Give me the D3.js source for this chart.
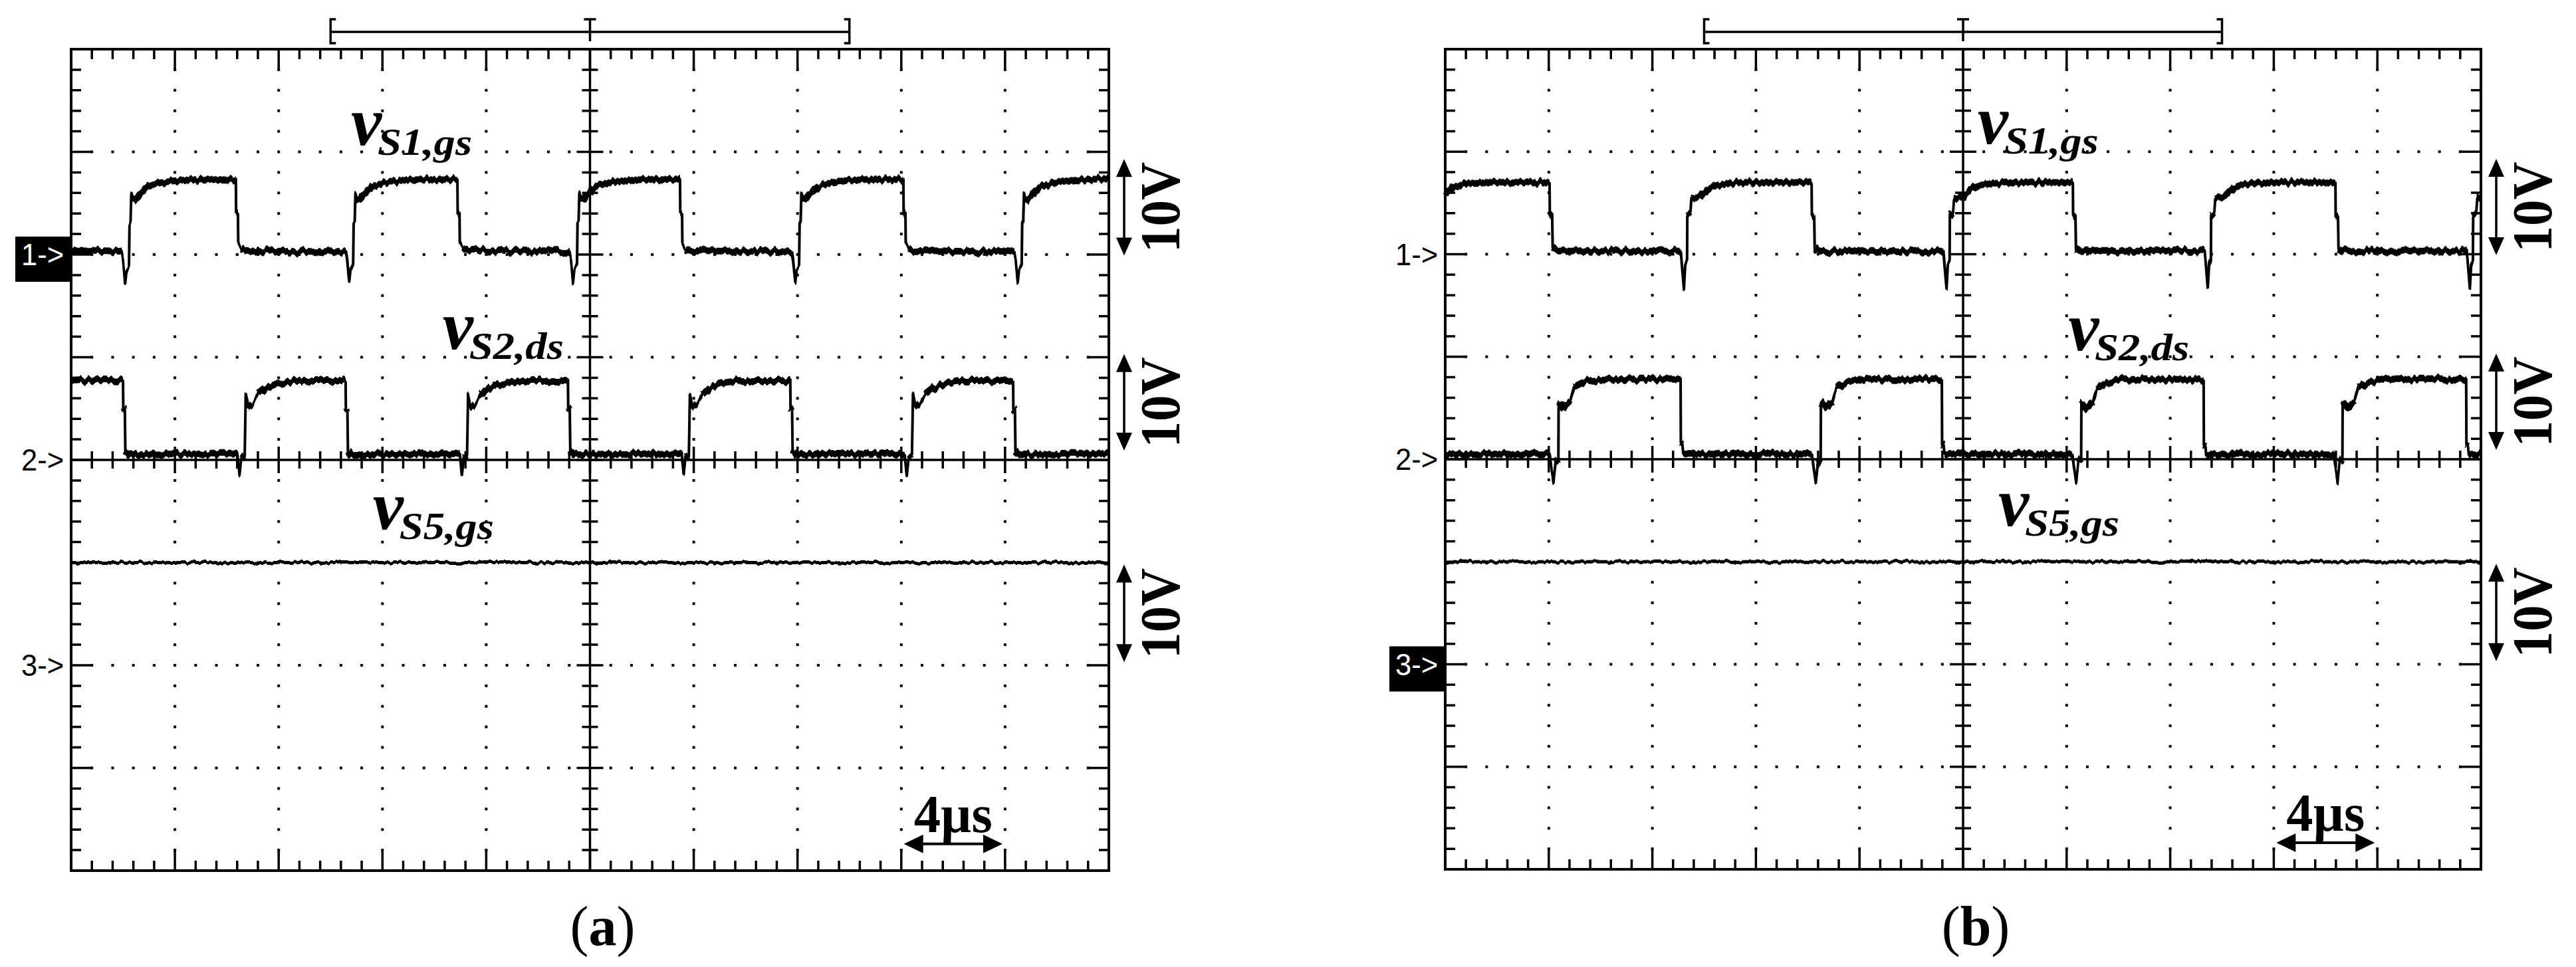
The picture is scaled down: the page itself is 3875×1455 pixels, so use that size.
<!DOCTYPE html>
<html>
<head>
<meta charset="utf-8">
<script src="https://cdn.jsdelivr.net/npm/d3@7"></script>
<style>
html,body{margin:0;padding:0;background:#fff;}
svg{display:block;}
</style>
</head>
<body>
<svg id="chart" width="3875" height="1455"></svg>
<script>
// ================= DATA =================
// time in µs (4 µs/div, 10 div), voltage in V (10 V/div), per channel relative to its ground marker
const timeSpan = [0, 40];
const voltsPerDiv = 10;
const divisionsX = 10;
const divisionsY = 8;
const panelNames = ["a", "b"];
const channelNames = ["1->", "2->", "3->"];
const channelGroundDiv = [6, 4, 2];
const traceSubscripts = ["S1,gs", "S2,ds", "S5,gs"];
const timeScaleLabel = "4\u00B5s";
const voltScaleLabel = "10V";
const voltScaleBars = [[-0.1, 9.3], [0.9, 10.3], [0.3, 9.8]];
const timeScaleBar = [32.1, 35.9];
const cursorBracket = [10, 20, 30];

const panelA_vS1 = [
 [0,0.3],[1.0,0.4],[1.95,0.3],
 [2.0,-0.5],[2.08,-2.7],[2.13,-1.5],[2.23,-1.0],[2.25,3.0],[2.29,3.2],[2.32,6.0],[2.40,5.2],[2.55,5.6],[2.70,6.0],[2.95,6.6],[3.45,7.0],[4.05,7.2],[4.75,7.3],[6.35,7.3],
 [6.36,4.0],[6.43,4.0],[6.44,1.2],[6.55,0.6],[6.75,0.4],[8.5,0.3],[10.59,0.3],
 [10.64,-0.5],[10.72,-2.7],[10.77,-1.5],[10.87,-1.0],[10.89,3.0],[10.93,3.2],[10.96,6.0],[11.04,5.2],[11.19,5.6],[11.34,6.0],[11.59,6.6],[12.09,7.0],[12.69,7.2],[13.39,7.3],[14.89,7.3],
 [14.90,4.0],[14.97,4.0],[14.98,1.2],[15.09,0.6],[15.29,0.4],[17.0,0.3],[19.22,0.3],
 [19.27,-0.5],[19.35,-2.7],[19.40,-1.5],[19.50,-1.0],[19.52,3.0],[19.56,3.2],[19.59,6.0],[19.67,5.2],[19.82,5.6],[19.97,6.0],[20.22,6.6],[20.72,7.0],[21.32,7.2],[22.02,7.3],[23.47,7.3],
 [23.48,4.0],[23.55,4.0],[23.56,1.2],[23.67,0.6],[23.87,0.4],[25.5,0.3],[27.78,0.3],
 [27.83,-0.5],[27.91,-2.7],[27.96,-1.5],[28.06,-1.0],[28.08,3.0],[28.12,3.2],[28.15,6.0],[28.23,5.2],[28.38,5.6],[28.53,6.0],[28.78,6.6],[29.28,7.0],[29.88,7.2],[30.58,7.3],[32.08,7.3],
 [32.09,4.0],[32.16,4.0],[32.17,1.2],[32.28,0.6],[32.48,0.4],[34.5,0.3],[36.36,0.3],
 [36.41,-0.5],[36.49,-2.7],[36.54,-1.5],[36.64,-1.0],[36.66,3.0],[36.70,3.2],[36.73,6.0],[36.81,5.2],[36.96,5.6],[37.11,6.0],[37.36,6.6],[37.86,7.0],[38.46,7.2],[39.16,7.3],[40,7.4]
];

const panelA_vS2 = [
 [0,7.7],[0.8,7.8],[2.0,7.7],[2.01,5.0],[2.07,4.8],[2.09,0.9],[2.2,0.5],[4.5,0.6],[6.41,0.6],
 [6.49,-1.5],[6.56,0.2],[6.69,0.4],[6.71,3.2],[6.73,6.4],[6.81,5.4],[6.95,5.0],[7.21,6.4],[7.51,7.0],[7.91,7.4],[8.71,7.7],[10.58,7.7],
 [10.59,5.0],[10.65,4.8],[10.67,0.9],[10.78,0.5],[13.0,0.6],[14.98,0.6],
 [15.06,-1.5],[15.13,0.2],[15.26,0.4],[15.28,3.2],[15.30,6.4],[15.38,5.4],[15.52,5.0],[15.78,6.4],[16.08,7.0],[16.48,7.4],[17.28,7.7],[19.15,7.7],
 [19.16,5.0],[19.22,4.8],[19.24,0.9],[19.35,0.5],[21.5,0.6],[23.53,0.6],
 [23.61,-1.5],[23.68,0.2],[23.81,0.4],[23.83,3.2],[23.85,6.4],[23.93,5.4],[24.07,5.0],[24.33,6.4],[24.63,7.0],[25.03,7.4],[25.83,7.7],[27.72,7.7],
 [27.73,5.0],[27.79,4.8],[27.81,0.9],[27.92,0.5],[30.0,0.6],[32.13,0.6],
 [32.21,-1.5],[32.28,0.2],[32.41,0.4],[32.43,3.2],[32.45,6.4],[32.53,5.4],[32.67,5.0],[32.93,6.4],[33.23,7.0],[33.63,7.4],[34.43,7.7],[36.31,7.7],
 [36.32,5.0],[36.38,4.8],[36.40,0.9],[36.51,0.5],[38.5,0.6],[40,0.6]
];

const panelA_vS5 = [[0,10.0],[10,10.0],[20,10.0],[30,10.0],[40,10.0]];

const panelB_vS1 = [
 [0,5.8],[0.3,6.5],[0.8,6.9],[1.5,7.0],[4.03,7.0],[4.04,3.8],[4.13,3.8],[4.15,0.6],[4.33,0.3],[7.0,0.3],[9.10,0.3],
 [9.22,-3.4],[9.27,-1.0],[9.34,-0.5],[9.35,3.8],[9.47,4.0],[9.51,5.4],[9.85,5.6],[10.15,6.3],[10.45,6.7],[10.95,6.9],[11.65,7.0],[14.15,7.0],
 [14.16,3.8],[14.25,3.8],[14.27,0.6],[14.45,0.3],[17.0,0.3],[19.24,0.3],
 [19.36,-3.4],[19.41,-1.0],[19.48,-0.5],[19.49,3.8],[19.61,4.0],[19.65,5.4],[19.99,5.6],[20.29,6.3],[20.59,6.7],[21.09,6.9],[21.79,7.0],[24.24,7.0],
 [24.25,3.8],[24.34,3.8],[24.36,0.6],[24.54,0.3],[27.0,0.3],[29.33,0.3],
 [29.45,-3.4],[29.50,-1.0],[29.57,-0.5],[29.58,3.8],[29.70,4.0],[29.74,5.4],[30.08,5.6],[30.38,6.3],[30.68,6.7],[31.18,6.9],[31.88,7.0],[34.38,7.0],
 [34.39,3.8],[34.48,3.8],[34.50,0.6],[34.68,0.3],[37.0,0.3],[39.45,0.3],
 [39.57,-3.4],[39.62,-1.0],[39.69,-0.5],[39.70,3.8],[39.82,4.0],[39.86,5.4],[40,5.5]
];

const panelB_vS2 = [
 [0,0.5],[2.0,0.5],[4.03,0.5],
 [4.18,-2.3],[4.26,-0.3],[4.37,0.0],[4.38,5.6],[4.58,5.0],[4.83,5.6],[4.98,7.0],[5.38,7.5],[5.98,7.8],[9.09,7.8],
 [9.10,1.5],[9.16,1.4],[9.19,0.5],[9.39,0.5],[12.0,0.5],[14.16,0.5],
 [14.31,-2.3],[14.39,-0.3],[14.50,0.0],[14.51,5.6],[14.71,5.0],[14.96,5.6],[15.11,7.0],[15.51,7.5],[16.11,7.8],[19.18,7.8],
 [19.19,1.5],[19.25,1.4],[19.28,0.5],[19.48,0.5],[22.0,0.5],[24.22,0.5],
 [24.37,-2.3],[24.45,-0.3],[24.56,0.0],[24.57,5.6],[24.77,5.0],[25.02,5.6],[25.17,7.0],[25.57,7.5],[26.17,7.8],[29.29,7.8],
 [29.30,1.5],[29.36,1.4],[29.39,0.5],[29.59,0.5],[32.0,0.5],[34.31,0.5],
 [34.46,-2.3],[34.54,-0.3],[34.65,0.0],[34.66,5.6],[34.86,5.0],[35.11,5.6],[35.26,7.0],[35.66,7.5],[36.26,7.8],[39.43,7.8],
 [39.44,1.5],[39.50,1.4],[39.53,0.5],[40,0.5]
];

const panelB_vS5 = [[0,10.0],[10,10.0],[20,10.0],[30,10.0],[40,10.0]];

// ================= LAYOUT =================
const SERIF = "'Liberation Serif','Times New Roman',Times,serif";
const SANS = "'Liberation Sans',Arial,sans-serif";
const panels = [
  { box: [107, 1668, 74, 1310], traces: [panelA_vS1, panelA_vS2, panelA_vS5], boxedMarker: 0, name: panelNames[0],
    labelPos: [[10.79, 7.07], [14.32, 5.08], [11.63, 3.33]] },
  { box: [2174, 3732, 74, 1308], traces: [panelB_vS1, panelB_vS2, panelB_vS5], boxedMarker: 2, name: panelNames[1],
    labelPos: [[20.56, 7.08], [24.06, 5.06], [21.36, 3.35]] }
];

const svg = d3.select("#chart");
svg.append("rect").attr("width", 3875).attr("height", 1455).attr("fill", "#fff");

// trace-fuzz rendering effect (oscilloscope noise look; does not alter the data points)
const defs = svg.append("defs");
function fuzzFilter(id, scale, freq) {
  const f = defs.append("filter").attr("id", id).attr("filterUnits", "userSpaceOnUse")
    .attr("x", 0).attr("y", 0).attr("width", 3875).attr("height", 1455);
  f.append("feTurbulence").attr("type", "fractalNoise").attr("baseFrequency", freq + " 0.004")
    .attr("numOctaves", 1).attr("seed", 7).attr("result", "turb");
  f.append("feColorMatrix").attr("in", "turb").attr("type", "matrix")
    .attr("values", "0 0 0 0 0.5  1 0 0 0 0  0 0 0 0 0  0 0 0 0 1").attr("result", "map");
  f.append("feDisplacementMap").attr("in", "SourceGraphic").attr("in2", "map")
    .attr("scale", scale).attr("xChannelSelector", "R").attr("yChannelSelector", "G");
}
fuzzFilter("fuzz", 13, 0.2);
fuzzFilter("fuzzLight", 8, 0.2);

function near(a, b) { return Math.abs(a - b) < 1e-6; }

panels.forEach(p => {
  const [L, R, T, B] = p.box;
  const x = d3.scaleLinear().domain(timeSpan).range([L, R]);
  const y = d3.scaleLinear().domain([0, divisionsY]).range([B, T]);
  const tDiv = (timeSpan[1] - timeSpan[0]) / divisionsX;
  const g = svg.append("g");

  const minorX = d3.range(0, divisionsX * 5 + 1).map(i => i * tDiv / 5);
  const minorY = d3.range(0, divisionsY * 5 + 1).map(i => i / 5);
  const isMajX = t => near(t / tDiv, Math.round(t / tDiv));
  const isMajY = d => near(d, Math.round(d));
  const midT = (timeSpan[0] + timeSpan[1]) / 2, midD = divisionsY / 2;

  // dotted grid
  const dots = [];
  for (let k = 1; k < divisionsX; k++) {
    if (k === divisionsX / 2) continue;
    minorY.forEach(d => { if (d > 0 && d < divisionsY) dots.push([x(k * tDiv), y(d)]); });
  }
  for (let j = 1; j < divisionsY; j++) {
    if (j === midD) continue;
    minorX.forEach(t => { if (t > timeSpan[0] && t < timeSpan[1] && !isMajX(t)) dots.push([x(t), y(j)]); });
  }
  g.append("g").selectAll("rect").data(dots).join("rect")
    .attr("x", d => d[0] - 2).attr("y", d => d[1] - 2)
    .attr("width", 4).attr("height", 4).attr("fill", "#000");

  // ticks
  const tp = d3.path();
  minorX.forEach(t => {
    if (t <= timeSpan[0] || t >= timeSpan[1]) return;
    const px = x(t), len = isMajX(t) ? 31 : 15, cl = isMajX(t) ? 20 : 13;
    tp.moveTo(px, T); tp.lineTo(px, T + len);
    tp.moveTo(px, B); tp.lineTo(px, B - len);
    tp.moveTo(px, y(midD) - cl); tp.lineTo(px, y(midD) + cl);
  });
  minorY.forEach(d => {
    if (d <= 0 || d >= divisionsY) return;
    const py = y(d), len = isMajY(d) ? 31 : 15, cl = isMajY(d) ? 20 : 12;
    tp.moveTo(L, py); tp.lineTo(L + len, py);
    tp.moveTo(R, py); tp.lineTo(R - len, py);
    tp.moveTo(x(midT) - cl, py); tp.lineTo(x(midT) + cl, py);
  });
  g.append("path").attr("d", tp.toString()).attr("fill", "none").attr("stroke", "#000").attr("stroke-width", 3.5);

  // center cross
  g.append("line").attr("x1", x(midT)).attr("x2", x(midT)).attr("y1", T).attr("y2", B).attr("stroke", "#000").attr("stroke-width", 3.5);
  g.append("line").attr("x1", L).attr("x2", R).attr("y1", y(midD)).attr("y2", y(midD)).attr("stroke", "#000").attr("stroke-width", 3.5);
  // border
  g.append("rect").attr("x", L).attr("y", T).attr("width", R - L).attr("height", B - T)
    .attr("fill", "none").attr("stroke", "#000").attr("stroke-width", 4);

  // traces
  p.traces.forEach((tr, i) => {
    const g0 = channelGroundDiv[i];
    const fx = d => x(d[0]);
    const fy = d => y(g0 + d[1] / voltsPerDiv);
    const line = d3.line().x(fx).y(fy);
    const tg = g.append("g").attr("filter", i < 2 ? "url(#fuzz)" : "url(#fuzzLight)");
    tg.append("path").attr("d", line(tr)).attr("fill", "none").attr("stroke", "#000")
      .attr("stroke-width", i === 2 ? 5 : 4).attr("stroke-linejoin", "round");
    if (i < 2) {
      const bp = d3.path();
      let open = false;
      for (let k = 1; k < tr.length; k++) {
        const x0 = fx(tr[k - 1]), y0 = fy(tr[k - 1]), x1 = fx(tr[k]), y1 = fy(tr[k]);
        const flat = (x1 - x0) > 0 && Math.abs(y1 - y0) < 1.5 * (x1 - x0);
        if (flat) {
          if (!open) { bp.moveTo(x0, y0); open = true; }
          bp.lineTo(x1, y1);
        } else open = false;
      }
      tg.append("path").attr("d", bp.toString()).attr("fill", "none").attr("stroke", "#000")
        .attr("stroke-width", 10).attr("stroke-linejoin", "round");
    }
  });

  // channel markers
  channelNames.forEach((nm, i) => {
    const py = y(channelGroundDiv[i]);
    const boxed = i === p.boxedMarker;
    if (boxed) g.append("rect").attr("x", L - 84).attr("y", py - 27).attr("width", 84).attr("height", 68).attr("fill", "#000");
    g.append("text").attr("x", L - 75).attr("y", py + 16)
      .attr("font-family", SANS).attr("font-size", 46)
      .attr("textLength", 64).attr("lengthAdjust", "spacingAndGlyphs")
      .attr("fill", boxed ? "#fff" : "#000").text(nm);
  });

  // trace labels
  p.labelPos.forEach((lp, i) => {
    const lx = x(lp[0]), ly = y(lp[1]);
    g.append("text").attr("x", lx).attr("y", ly)
      .attr("font-family", SERIF).attr("font-style", "italic").attr("font-weight", "bold")
      .attr("font-size", 104).text("v");
    g.append("text").attr("x", lx + 40).attr("y", ly + 15)
      .attr("font-family", SERIF).attr("font-style", "italic").attr("font-weight", "bold")
      .attr("font-size", 58).attr("textLength", 142).attr("lengthAdjust", "spacingAndGlyphs")
      .text(traceSubscripts[i]);
  });

  // volt scale arrows
  const ax = R + 23;
  voltScaleBars.forEach((vb, i) => {
    const g0 = channelGroundDiv[i];
    const yb = y(g0 + vb[0] / voltsPerDiv), yt = y(g0 + vb[1] / voltsPerDiv);
    g.append("line").attr("x1", ax).attr("x2", ax).attr("y1", yt + 20).attr("y2", yb - 20).attr("stroke", "#000").attr("stroke-width", 3.5);
    g.append("path").attr("d", `M${ax},${yt} L${ax - 12},${yt + 27} L${ax + 12},${yt + 27} Z`).attr("fill", "#000");
    g.append("path").attr("d", `M${ax},${yb} L${ax - 12},${yb - 27} L${ax + 12},${yb - 27} Z`).attr("fill", "#000");
    g.append("text").attr("transform", `translate(${R + 106},${(yt + yb) / 2}) rotate(-90)`)
      .attr("text-anchor", "middle").attr("font-family", SERIF).attr("font-weight", "bold")
      .attr("font-size", 84).attr("textLength", 136).attr("lengthAdjust", "spacingAndGlyphs")
      .text(voltScaleLabel);
  });

  // time scale arrow
  const ty = y(0.26), tx0 = x(timeScaleBar[0]), tx1 = x(timeScaleBar[1]);
  g.append("line").attr("x1", tx0 + 20).attr("x2", tx1 - 20).attr("y1", ty).attr("y2", ty).attr("stroke", "#000").attr("stroke-width", 4);
  g.append("path").attr("d", `M${tx0},${ty} L${tx0 + 29},${ty - 14} L${tx0 + 29},${ty + 14} Z`).attr("fill", "#000");
  g.append("path").attr("d", `M${tx1},${ty} L${tx1 - 29},${ty - 14} L${tx1 - 29},${ty + 14} Z`).attr("fill", "#000");
  g.append("text").attr("x", (tx0 + tx1) / 2).attr("y", y(0.375))
    .attr("text-anchor", "middle").attr("font-family", SERIF).attr("font-weight", "bold")
    .attr("font-size", 80).attr("textLength", 118).attr("lengthAdjust", "spacingAndGlyphs")
    .text(timeScaleLabel);

  // cursor bracket above plot
  const by = T - 26, bx0 = x(cursorBracket[0]), bxm = x(cursorBracket[1]), bx1 = x(cursorBracket[2]);
  const bpth = d3.path();
  bpth.moveTo(bx0, by); bpth.lineTo(bx1, by);
  bpth.moveTo(bx0 + 8, T - 45); bpth.lineTo(bx0, T - 45); bpth.lineTo(bx0, T - 9); bpth.lineTo(bx0 + 8, T - 9);
  bpth.moveTo(bx1 - 8, T - 45); bpth.lineTo(bx1, T - 45); bpth.lineTo(bx1, T - 9); bpth.lineTo(bx1 - 8, T - 9);
  bpth.moveTo(bxm - 9, T - 45); bpth.lineTo(bxm + 9, T - 45);
  bpth.moveTo(bxm, T - 45); bpth.lineTo(bxm, T - 12);
  g.append("path").attr("d", bpth.toString()).attr("fill", "none").attr("stroke", "#000").attr("stroke-width", 3.5);

  // panel caption
  const cap = g.append("text").attr("x", x(midT) + 19).attr("y", 1422)
    .attr("text-anchor", "middle").attr("font-family", SERIF).attr("font-size", 84);
  cap.append("tspan").text("(");
  cap.append("tspan").attr("font-weight", "bold").text(p.name);
  cap.append("tspan").text(")");
});
</script>
</body>
</html>
